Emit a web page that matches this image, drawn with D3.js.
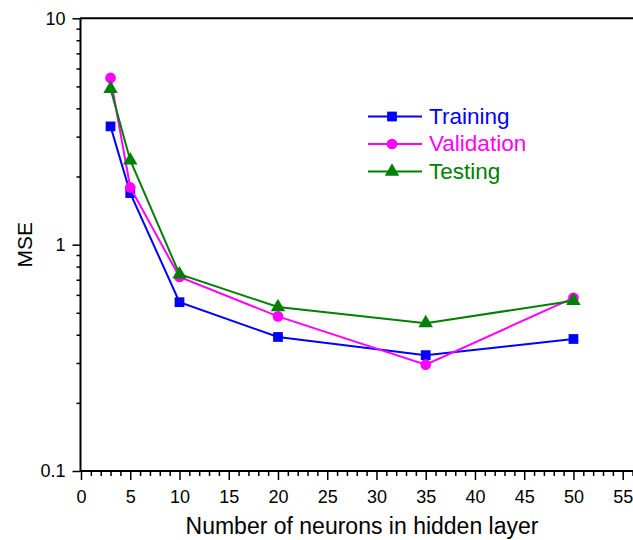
<!DOCTYPE html>
<html>
<head>
<meta charset="utf-8">
<script src="https://cdn.jsdelivr.net/npm/d3@7"></script>
<style>
  html, body { margin: 0; padding: 0; background: #fff; }
  svg { display: block; }
</style>
</head>
<body>
<div id="chart"></div>
<script>
'use strict';

// Data
const neurons = [3, 5, 10, 20, 35, 50];
const training = [3.33, 1.69, 0.557, 0.391, 0.325, 0.383];
const validation = [5.45, 1.79, 0.72, 0.482, 0.295, 0.582];
const testing = [4.88, 2.36, 0.74, 0.53, 0.45, 0.565];
const seriesNames = ['Training', 'Validation', 'Testing'];
const seriesColors = ['#0000ff', '#ff00ff', '#008000'];
const seriesSymbols = [d3.symbolSquare, d3.symbolCircle, d3.symbolTriangle];
const xMajorTicks = [0, 5, 10, 15, 20, 25, 30, 35, 40, 45, 50, 55];
const yMajorTicks = [0.1, 1, 10];

const W = 633, H = 540;
const FONT = "'Liberation Sans', Arial, sans-serif";

const svg = d3.select('#chart').append('svg')
    .attr('width', W)
    .attr('height', H);

const x = d3.scaleLinear().domain([0, 55]).range([81, 622.7]);
const y = d3.scaleLog().domain([0.1, 10]).range([471, 18.3]);

// Minor ticks
const xMinor = d3.range(0, 57).filter(v => v % 5 !== 0);
const yMinor = [];
[0.1, 1].forEach(dec => { for (let k = 2; k <= 9; k++) yMinor.push(dec * k); });

// X axis
const xAxisG = svg.append('g').attr('transform', `translate(0,${y(0.1)})`);
xAxisG.append('g')
    .call(d3.axisBottom(x).tickValues(xMinor).tickSize(5).tickFormat(''))
    .call(g => g.select('.domain').remove());
xAxisG.append('g')
    .call(d3.axisBottom(x).tickValues(xMajorTicks).tickSize(9).tickPadding(10).tickFormat(d3.format('d')))
    .call(g => g.select('.domain').remove());
xAxisG.selectAll('line').attr('stroke', '#000').attr('stroke-width', 1.5);
xAxisG.selectAll('text').attr('font-family', FONT).attr('font-size', 18).attr('fill', '#000');

// Y axis
const yAxisG = svg.append('g').attr('transform', `translate(${x(0) - 0.5},0)`);
yAxisG.append('g')
    .call(d3.axisLeft(y).tickValues(yMinor).tickSize(4).tickFormat(''))
    .call(g => g.select('.domain').remove());
yAxisG.append('g')
    .call(d3.axisLeft(y).tickValues(yMajorTicks).tickSize(8).tickPadding(7).tickFormat(d => d3.format('~g')(d)))
    .call(g => g.select('.domain').remove());
yAxisG.selectAll('line').attr('stroke', '#000').attr('stroke-width', 1.5);
yAxisG.selectAll('text').attr('font-family', FONT).attr('font-size', 18).attr('fill', '#000');

// Frame lines (left, bottom, top)
svg.append('line')
    .attr('x1', x(0) - 0.5).attr('x2', x(0) - 0.5)
    .attr('y1', y(10)).attr('y2', y(0.1) + 1)
    .attr('stroke', '#000').attr('stroke-width', 2);
svg.append('line')
    .attr('x1', x(0) - 1).attr('x2', W)
    .attr('y1', y(0.1)).attr('y2', y(0.1))
    .attr('stroke', '#000').attr('stroke-width', 2);
svg.append('line')
    .attr('x1', x(0) - 1).attr('x2', W)
    .attr('y1', y(10)).attr('y2', y(10))
    .attr('stroke', '#000').attr('stroke-width', 2);

// Axis titles
svg.append('text')
    .attr('x', 362)
    .attr('y', 534)
    .attr('text-anchor', 'middle')
    .attr('font-family', FONT)
    .attr('font-size', 23)
    .attr('fill', '#000')
    .text('Number of neurons in hidden layer');

svg.append('text')
    .attr('transform', `translate(32,${y(1)}) rotate(-90)`)
    .attr('text-anchor', 'middle')
    .attr('font-family', FONT)
    .attr('font-size', 21)
    .attr('fill', '#000')
    .text('MSE');

// Series
const series = [training, validation, testing].map((vals, i) => ({
    name: seriesNames[i],
    color: seriesColors[i],
    symbol: seriesSymbols[i],
    points: neurons.map((n, j) => ({ n, v: vals[j] }))
}));

const line = d3.line().x(d => x(d.n)).y(d => y(d.v));
const symbolSize = s => s === d3.symbolTriangle ? 90 : (s === d3.symbolCircle ? 90 : 95);

series.forEach(s => {
    const g = svg.append('g');
    g.append('path')
        .datum(s.points)
        .attr('d', line)
        .attr('fill', 'none')
        .attr('stroke', s.color)
        .attr('stroke-width', 2);
    g.selectAll('path.marker')
        .data(s.points)
        .join('path')
        .attr('class', 'marker')
        .attr('transform', d => `translate(${x(d.n)},${y(d.v)})`)
        .attr('d', d3.symbol().type(s.symbol).size(symbolSize(s.symbol)))
        .attr('fill', s.color);
});

// Legend
const legend = svg.append('g').attr('transform', 'translate(368,116.5)');
series.forEach((s, i) => {
    const row = legend.append('g').attr('transform', `translate(0,${i * 27.5})`);
    row.append('line')
        .attr('x1', 0).attr('x2', 54)
        .attr('stroke', s.color).attr('stroke-width', 2);
    row.append('path')
        .attr('transform', 'translate(24,0)')
        .attr('d', d3.symbol().type(s.symbol).size(symbolSize(s.symbol)))
        .attr('fill', s.color);
    row.append('text')
        .attr('x', 61)
        .attr('y', 7)
        .attr('font-family', FONT)
        .attr('font-size', 22.5)
        .attr('fill', s.color)
        .text(s.name);
});
</script>
</body>
</html>
